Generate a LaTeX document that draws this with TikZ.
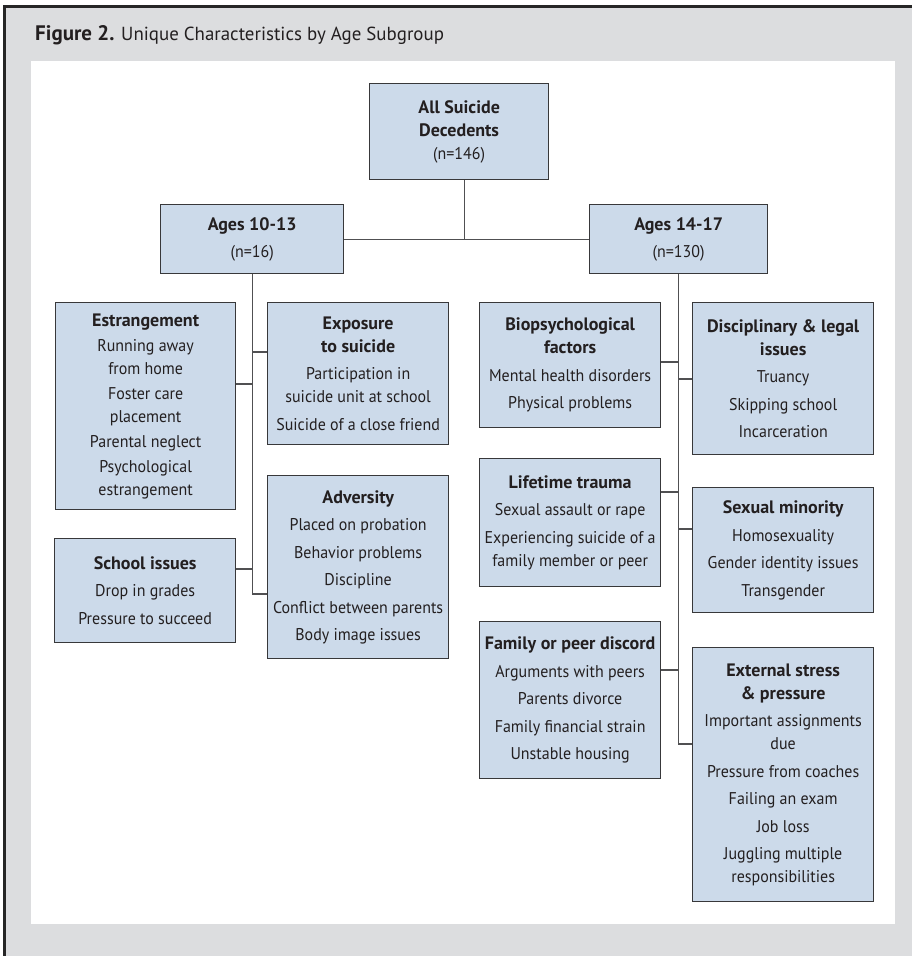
\documentclass[tikz,border=0pt]{standalone}
\usepackage{fontspec}
\setmainfont{PT Sans}
\newfontfamily\itemf{PT Sans}[FakeStretch=0.94]
\newcommand\hd[1]{{\normalfont\fontsize{18}{23}\selectfont\bfseries #1}}
\definecolor{bggray}{HTML}{DCDDDF}
\definecolor{boxfill}{HTML}{CCDAEA}
\definecolor{boxdraw}{HTML}{38383A}
\definecolor{linecol}{HTML}{505052}
\definecolor{txt}{HTML}{231F20}
\begin{document}
\begin{tikzpicture}[x=1pt,y=-1pt,
  cat/.style={draw=boxdraw, line width=1.3pt, fill=boxfill, text=txt, align=center,
    inner sep=0pt, anchor=north west, font=\fontsize{17}{23}\selectfont\itemf},
  conn/.style={draw=linecol, line width=1.3pt}]
\useasboundingbox (0,0) rectangle (912,956);
\fill[bggray] (4.5,6.5) rectangle (912,956);
\draw[line width=2.5pt, black!85] (4.5,956) -- (4.5,6.5) -- (912,6.5);
\fill[white] (31,61) rectangle (895,924);
\node[anchor=base west, text=txt, inner sep=0pt, font=\fontsize{18.9}{22}\selectfont] (title) at (35,40)
  {{\fontsize{21}{22}\selectfont\bfseries Figure 2.} Unique Characteristics by Age Subgroup};

\node[cat, minimum width=179, minimum height=96] (top) at (369,83)
  {\hd{All Suicide}\\\hd{Decedents}\\(n=146)};
\node[cat, minimum width=183, minimum height=69] (a1013) at (160,204)
  {\hd{Ages 10-13}\\[4pt](n=16)};
\node[cat, minimum width=178, minimum height=69] (a1417) at (589,204)
  {\hd{Ages 14-17}\\[4pt](n=130)};

\node[cat, minimum width=180, minimum height=207] (est) at (55,302)
  {\hd{Estrangement}\\[2pt]Running away\\from home\\[2pt]Foster care\\placement\\[2pt]Parental neglect\\[2pt]Psychological\\estrangement};
\node[cat, minimum width=181, minimum height=142] (exp) at (267,302)
  {\hd{Exposure}\\\hd{to suicide}\\[4.5pt]Participation in\\suicide unit at school\\[4.5pt]Suicide of a close friend};
\node[cat, minimum width=181, minimum height=104] (sch) at (54,538)
  {\hd{School issues}\\[4.5pt]Drop in grades\\[4.5pt]Pressure to succeed};
\node[cat, minimum width=181, minimum height=183] (adv) at (267,475)
  {\hd{Adversity}\\[4.5pt]Placed on probation\\[4.5pt]Behavior problems\\[4.5pt]Discipline\\[4.5pt]Conflict between parents\\[4.5pt]Body image issues};

\node[cat, minimum width=181, minimum height=125] (bio) at (479,302)
  {\hd{Biopsychological}\\\hd{factors}\\[4.5pt]Mental health disorders\\[4.5pt]Physical problems};
\node[cat, minimum width=181, minimum height=152] (dis) at (692,302)
  {\hd{Disciplinary \& legal}\\\hd{issues}\\[4.5pt]Truancy\\[4.5pt]Skipping school\\[4.5pt]Incarceration};
\node[cat, minimum width=181, minimum height=128] (life) at (479,458)
  {\hd{Lifetime trauma}\\[4.5pt]Sexual assault or rape\\[4.5pt]Experiencing suicide of a\\family member or peer};
\node[cat, minimum width=181, minimum height=125] (sex) at (692,487)
  {\hd{Sexual minority}\\[4.5pt]Homosexuality\\[4.5pt]Gender identity issues\\[4.5pt]Transgender};
\node[cat, minimum width=181, minimum height=157] (fam) at (479,621)
  {\hd{Family or peer discord}\\[4.5pt]Arguments with peers\\[4.5pt]Parents divorce\\[4.5pt]Family financial strain\\[4.5pt]Unstable housing};
\node[cat, minimum width=181, minimum height=254] (ext) at (692,647)
  {\hd{External stress}\\\hd{\& pressure}\\[4.5pt]Important assignments\\due\\[4.5pt]Pressure from coaches\\[4.5pt]Failing an exam\\[4.5pt]Job loss\\[4.5pt]Juggling multiple\\responsibilities};

% connectors
\draw[conn] ([xshift=5.5pt]top.south) -- ([xshift=5.5pt]top.south |- a1013.east);
\draw[conn] (a1013.east) -- (a1417.west);
\draw[conn] (a1013.south) -- (a1013.south |- 0,594) -- (adv.west |- 0,594);
\draw[conn] (a1013.south |- 0,352) -- (exp.west |- 0,352);
\draw[conn] (est.east |- 0,384) -- (a1013.south |- 0,384);
\draw[conn] (sch.east |- 0,569) -- (a1013.south |- 0,569);
\draw[conn] (a1417.south) -- (a1417.south |- 0,744) -- (ext.west |- 0,744);
\draw[conn] (bio.east |- 0,362) -- (a1417.south |- 0,362);
\draw[conn] (a1417.south |- 0,379) -- (dis.west |- 0,379);
\draw[conn] (life.east |- 0,492) -- (a1417.south |- 0,492);
\draw[conn] (a1417.south |- 0,529) -- (sex.west |- 0,529);
\draw[conn] (fam.east |- 0,670) -- (a1417.south |- 0,670);
\end{tikzpicture}
\end{document}
